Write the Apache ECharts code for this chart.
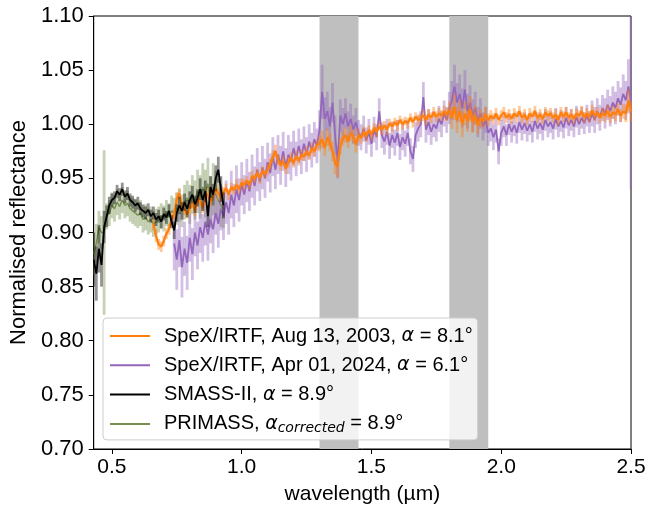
<!DOCTYPE html>
<html><head><meta charset="utf-8">
<script src="https://cdn.jsdelivr.net/npm/echarts@6/dist/echarts.min.js"></script>
<style>html,body{margin:0;padding:0;background:#fff}#c{width:649px;height:514px}</style>
</head><body><div id="c"></div>
<script>
// wavelength grid step (µm)
const STEP = 0.01;

// SpeX/IRTF 2003 (orange), starts at 0.66 µm
const orangeStart = 0.66;
const orangeVals = [
0.908,0.897,0.889,0.887,
0.892,0.899,0.903,0.912,0.917,0.931,0.936,0.924,0.921,0.917,
0.922,0.927,0.920,0.930,0.929,0.923,0.932,0.936,0.928,0.934,
0.940,0.936,0.933,0.937,0.941,0.935,0.942,0.939,0.944,0.940,
0.946,0.944,0.948,0.944,0.952,0.950,0.955,0.950,0.957,0.954,
0.958,0.963,0.970,0.975,0.967,0.962,0.966,0.959,0.965,0.969,
0.964,0.971,0.966,0.972,0.970,0.975,0.971,0.978,0.975,0.981,
0.982,0.986,0.978,0.988,0.983,0.975,0.964,0.961,0.980,0.987,
0.990,0.984,0.992,0.989,0.981,0.990,0.987,0.993,0.989,0.995,
0.990,0.997,0.993,0.998,0.995,0.999,0.995,1.001,0.998,1.002,
0.999,1.004,1.000,1.003,1.001,1.006,1.002,1.007,1.004,1.006,
1.008,1.004,1.009,1.006,1.011,1.007,1.010,1.008,1.012,1.009,
1.013,1.006,1.016,1.004,1.012,1.000,1.010,1.003,1.014,1.002,
1.008,0.999,1.006,1.003,1.009,1.004,1.008,1.005,1.010,1.004,
1.008,1.011,1.006,1.009,1.005,1.010,1.007,1.012,1.006,1.009,
1.004,1.010,1.007,1.012,1.006,1.009,1.005,1.011,1.008,1.010,
1.006,1.009,1.004,1.011,1.007,1.011,1.006,1.009,1.005,1.010,
1.008,1.012,1.006,1.010,1.007,1.013,1.008,1.011,1.006,1.010,
1.008,1.012,1.007,1.011,1.009,1.014,1.008,1.012,1.010,1.022,
1.012];
const orangeErr = [ // thousandths
6,6,5,5,
5,5,5,5,5,6,5,5,5,4,
5,4,5,4,5,5,4,5,4,5,
4,5,4,5,4,5,4,4,5,4,
4,5,4,4,5,4,4,5,4,4,
5,5,6,6,5,5,5,5,5,5,
4,5,4,5,4,5,4,5,5,5,
7,8,7,8,8,9,10,10,8,7,
7,6,7,6,7,6,5,5,5,4,
5,4,5,4,5,4,5,4,5,4,
5,4,5,4,5,4,5,4,5,4,
5,5,5,5,5,5,5,5,5,6,
8,10,12,12,10,12,11,10,12,10,
9,8,8,7,7,6,5,5,5,5,
5,5,5,5,5,5,5,5,5,5,
5,5,5,5,5,5,5,5,5,5,
5,5,5,5,5,5,5,5,5,5,
5,5,5,5,5,5,5,5,5,5,
6,6,6,6,6,6,6,7,8,10,
10];

// SpeX/IRTF 2024 (purple), starts at 0.74 µm
const purpleStart = 0.74;
const purpleVals = [
0.890,0.875,0.893,0.868,0.885,0.872,
0.895,0.880,0.900,0.888,0.905,0.895,0.910,0.898,0.912,0.903,
0.918,0.908,0.922,0.915,0.928,0.918,0.935,0.925,0.940,0.930,
0.945,0.935,0.948,0.938,0.952,0.943,0.958,0.947,0.960,0.950,
0.965,0.955,0.970,0.958,0.972,0.962,0.975,0.960,0.972,0.966,
0.978,0.968,0.980,0.970,0.982,0.972,0.984,0.976,0.986,0.980,
0.995,1.030,1.005,1.012,0.998,1.020,0.990,0.965,1.008,1.000,
1.010,0.998,1.005,0.995,1.002,0.992,0.988,0.996,0.985,0.993,
0.982,0.995,0.988,1.012,0.990,0.984,0.993,0.980,0.990,0.983,
0.992,0.979,0.988,0.982,0.992,0.975,0.968,0.990,0.996,1.000,
1.025,0.995,1.002,0.993,1.000,0.996,1.005,1.000,1.010,1.004,
1.015,1.022,1.035,1.020,1.028,1.015,1.032,1.012,1.020,1.008,
1.015,1.002,1.010,0.998,1.004,0.992,0.996,0.988,0.995,0.975,
0.992,0.998,0.990,1.000,0.993,0.999,0.992,1.002,0.995,1.001,
0.994,1.000,0.993,1.003,0.996,1.001,0.995,1.004,0.998,1.002,
0.996,1.005,0.998,1.003,0.997,1.006,0.999,1.004,0.998,1.007,
1.000,1.006,1.001,1.008,1.002,1.010,1.004,1.012,1.006,1.015,
1.010,1.018,1.012,1.020,1.015,1.024,1.018,1.028,1.022,1.035,
1.020];
const purpleErr = [
25,28,25,28,25,25,
22,24,22,22,24,22,22,24,22,22,
20,22,20,22,20,20,22,20,22,20,
20,18,20,18,20,18,20,18,20,18,
18,18,18,18,18,18,18,18,18,18,
16,16,16,16,16,16,16,16,16,16,
18,25,20,18,18,18,18,15,15,15,
14,14,14,13,13,12,12,12,12,12,
12,12,12,12,12,12,12,12,12,12,
12,12,12,12,12,12,12,12,12,12,
14,12,12,12,12,12,12,12,12,12,
15,18,20,18,18,18,18,16,16,15,
15,14,14,13,12,12,12,12,12,12,
12,10,10,10,10,10,10,10,10,10,
10,10,10,10,10,10,10,10,10,10,
10,10,10,10,10,10,10,10,10,10,
10,10,10,10,10,12,12,12,12,12,
14,14,14,15,15,16,16,18,18,25,
80];

// SMASS-II (black), starts at 0.43 µm
const blackStart = 0.43;
const blackVals = [
0.875,0.862,0.885,0.870,0.905,0.915,0.925,
0.930,0.932,0.938,0.935,0.940,0.933,0.936,0.930,0.928,0.925,
0.927,0.922,0.920,0.918,0.921,0.915,0.918,0.912,0.915,0.910,
0.917,0.914,0.920,0.910,0.902,0.918,0.925,0.920,0.928,0.922,
0.930,0.935,0.926,0.932,0.940,0.930,0.938,0.915,0.942,0.935,
0.950,0.958,0.940,0.925];
const blackErr = [
25,25,22,20,15,10,8,
6,6,6,6,6,6,6,6,6,6,
6,6,6,6,6,6,6,6,6,6,
6,6,6,6,8,8,8,8,8,8,
8,8,8,8,10,10,10,10,10,10,
12,12,12,12];

// PRIMASS (green), starts at 0.43 µm
const greenStart = 0.43;
const greenVals = [
0.880,0.890,0.905,0.900,0.900,0.915,0.918,
0.925,0.922,0.928,0.924,0.930,0.925,0.927,0.922,0.920,0.918,
0.916,0.918,0.912,0.914,0.910,0.912,0.908,0.910,0.912,0.915,
0.913,0.918,0.915,0.920,0.918,0.922,0.925,0.920,0.928,0.932,
0.926,0.935,0.930,0.938,0.933,0.942,0.936,0.945,0.928,0.940,
0.935,0.930,0.925,0.922];
const greenErr = [
20,18,15,15,76,12,12,
12,12,12,12,12,12,12,12,12,12,
12,12,12,12,12,12,12,12,12,12,
12,12,12,14,14,15,15,15,16,16,
18,18,18,20,20,22,22,24,24,24,
22,20,20,18];

// telluric bands (µm)
const bands = [[1.30, 1.45], [1.80, 1.95]];
const xTicks = [0.5, 1.0, 1.5, 2.0, 2.5];

const names = ['SpeX/IRTF, Aug 13, 2003', 'SpeX/IRTF, Apr 01, 2024', 'SMASS-II', 'PRIMASS'];
const colors = ['#ff7f0e', '#9467bd', '#000000', '#76914f'];

function pts(start, vals) {
  return vals.map((v, i) => [+(start + i * STEP).toFixed(2), v]);
}
function errs(start, vals, e) {
  return vals.map((v, i) => [+(start + i * STEP).toFixed(2), v - e[i] / 1000, v + e[i] / 1000]);
}
function errSeries(id, data, color, z) {
  return {
    type: 'custom', id: id, name: id, data: data, z: z, silent: true, clip: true,
    encode: { x: 0, y: [1, 2] },
    renderItem: function (params, api) {
      const x = api.value(0);
      const a = api.coord([x, api.value(1)]);
      const b = api.coord([x, api.value(2)]);
      return { type: 'line', shape: { x1: a[0], y1: a[1], x2: b[0], y2: b[1] },
        style: { stroke: color, lineWidth: 2.8, opacity: 0.42 } };
    }
  };
}
function lineSeries(name, data, color, z, w) {
  return { type: 'line', name: name, data: data, z: z, showSymbol: false, symbol: 'none',
    clip: true, silent: true, lineStyle: { color: color, width: w }, itemStyle: { color: color } };
}

const FONT = '"Liberation Sans", Arial, Helvetica, sans-serif';
const chart = echarts.init(document.getElementById('c'), null, { renderer: 'canvas' });
chart.setOption({
  animation: false,
  backgroundColor: '#ffffff',
  grid: { left: 93, right: 18, top: 16, bottom: 65, show: true, borderColor: '#000', borderWidth: 1, backgroundColor: 'transparent' },
  xAxis: {
    type: 'value', min: 0.43, max: 2.5,
    name: 'wavelength (µm)', nameLocation: 'middle', nameGap: 35,
    nameTextStyle: { fontFamily: FONT, fontSize: 21, color: '#000' },
    axisLine: { show: true, onZero: false, lineStyle: { color: '#000', width: 1 } },
    axisTick: { show: true, length: 5, lineStyle: { color: '#000' }, customValues: xTicks },
    axisLabel: { fontFamily: FONT, fontSize: 21, color: '#000', margin: 8, customValues: xTicks,
      formatter: function (v) { return v.toFixed(1); } },
    splitLine: { show: false }
  },
  yAxis: {
    type: 'value', min: 0.70, max: 1.10, interval: 0.05,
    name: 'Normalised reflectance', nameLocation: 'middle', nameGap: 62,
    nameTextStyle: { fontFamily: FONT, fontSize: 22, color: '#000' },
    axisLine: { show: true, onZero: false, lineStyle: { color: '#000', width: 1 } },
    axisTick: { show: true, length: 5, lineStyle: { color: '#000' } },
    axisLabel: { fontFamily: FONT, fontSize: 22, color: '#000', margin: 10,
      formatter: function (v) { return v.toFixed(2); } },
    splitLine: { show: false }
  },
  legend: {
    orient: 'vertical', left: 103, top: 318,
    data: names,
    icon: 'rect', itemWidth: 40, itemHeight: 2, itemGap: 7.3,
    padding: [7, 5, 5, 7],
    backgroundColor: 'rgba(255,255,255,0.8)', borderColor: '#cccccc', borderWidth: 1, borderRadius: 4,
    textStyle: {
      fontFamily: FONT, fontSize: 20, color: '#000', lineHeight: 22, padding: [0, 0, 0, 9],
      rich: {
        n: { fontFamily: FONT, fontSize: 20, color: '#000', lineHeight: 22 },
        i: { fontFamily: '"DejaVu Sans", sans-serif', fontStyle: 'italic', fontSize: 19, color: '#000', lineHeight: 22 },
        s: { fontFamily: '"DejaVu Sans", sans-serif', fontStyle: 'italic', fontSize: 14, color: '#000', lineHeight: 22, verticalAlign: 'bottom', padding: [8, 0, 0, 0] }
      }
    },
    formatter: function (name) {
      if (name === names[0]) return '{n|SpeX/IRTF, Aug 13, 2003, }{i|α}{n| = 8.1°}';
      if (name === names[1]) return '{n|SpeX/IRTF, Apr 01, 2024, }{i|α}{n| = 6.1°}';
      if (name === names[2]) return '{n|SMASS-II, }{i|α}{n| = 8.9°}';
      return '{n|PRIMASS, }{i|α}{s|corrected}{n| = 8.9°}';
    }
  },
  series: [
    { type: 'line', name: 'bands', data: [], z: 1, silent: true,
      markArea: { silent: true, itemStyle: { color: '#bfbfbf', opacity: 1 },
        data: bands.map(b => [{ xAxis: b[0] }, { xAxis: b[1] }]) } },
    errSeries('gErr', errs(greenStart, greenVals, greenErr), colors[3], 2),
    lineSeries(names[3], pts(greenStart, greenVals), colors[3], 3, 1.5),
    errSeries('pErr', errs(purpleStart, purpleVals, purpleErr), colors[1], 4),
    lineSeries(names[1], pts(purpleStart, purpleVals), colors[1], 5, 1.8),
    errSeries('oErr', errs(orangeStart, orangeVals, orangeErr), colors[0], 6),
    lineSeries(names[0], pts(orangeStart, orangeVals), colors[0], 7, 2.2),
    errSeries('bErr', errs(blackStart, blackVals, blackErr), colors[2], 8),
    lineSeries(names[2], pts(blackStart, blackVals), colors[2], 9, 1.8)
  ]
});
</script></body></html>
